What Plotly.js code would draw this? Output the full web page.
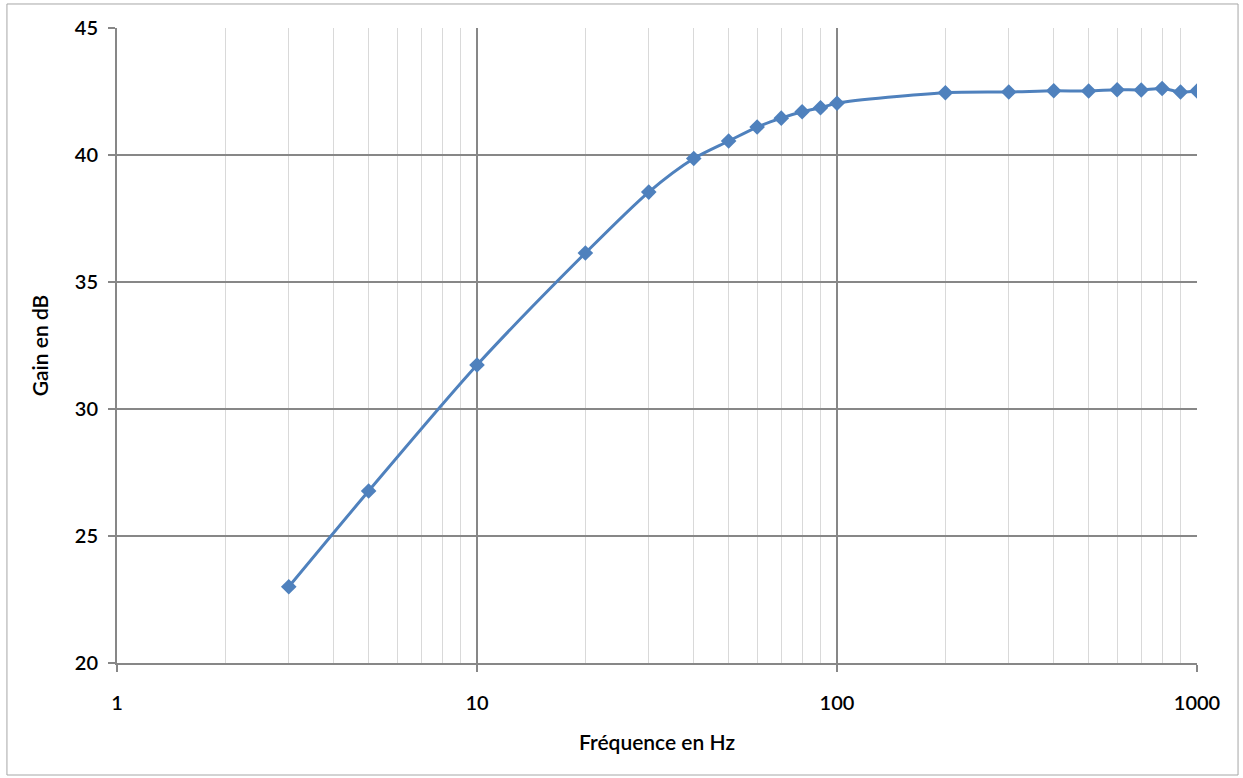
<!DOCTYPE html>
<html>
<head>
<meta charset="utf-8">
<script src="https://cdn.plot.ly/plotly-3.0.1.min.js"></script>
<style>html,body{margin:0;padding:0;background:#fff;}#chart{width:1243px;height:778px;}</style>
</head>
<body>
<div id="chart"></div>
<script>
const frequencies = [3, 5, 10, 20, 30, 40, 50, 60, 70, 80, 90, 100, 200, 300, 400, 500, 600, 700, 800, 900, 1000];
const gainDb = [23.0, 26.77, 31.73, 36.14, 38.54, 39.86, 40.55, 41.10, 41.45, 41.70, 41.86, 42.04, 42.45, 42.48, 42.53, 42.52, 42.57, 42.56, 42.62, 42.48, 42.52];
const xTickVals = [1, 10, 100, 1000];
const xTickText = ['1', '10', '100', '1000'];
const yTickVals = [20, 25, 30, 35, 40, 45];
const xTitle = 'Fréquence en Hz';
const yTitle = 'Gain en dB';

const axisGray = '#878787';
const fontFam = 'Lato, "Open Sans", sans-serif';

const trace = {
  x: frequencies,
  y: gainDb,
  type: 'scatter',
  mode: 'lines+markers',
  line: {color: '#4F81BD', width: 3, shape: 'spline', smoothing: 0.8},
  marker: {symbol: 'diamond', size: 12, color: '#4F81BD'},
  hoverinfo: 'x+y'
};

const layout = {
  width: 1243,
  height: 778,
  margin: {l: 117, r: 46, t: 28, b: 115},
  paper_bgcolor: '#ffffff',
  plot_bgcolor: '#ffffff',
  showlegend: false,
  font: {family: fontFam, color: '#000000', size: 20, weight: 600},
  xaxis: {
    type: 'log',
    range: [0, 3],
    tickvals: xTickVals,
    ticktext: xTickText,
    ticks: 'outside',
    ticklen: 7,
    tickwidth: 2,
    tickcolor: axisGray,
    ticklabelstandoff: 14,
    showline: true,
    linecolor: axisGray,
    linewidth: 2,
    showgrid: true,
    gridcolor: axisGray,
    gridwidth: 1.5,
    zeroline: false,
    minor: {dtick: 'D1', showgrid: true, gridcolor: '#d9d9d9', gridwidth: 1, ticks: ''},
    tickfont: {family: fontFam, size: 20, color: '#000', weight: 600},
    title: {text: xTitle, font: {family: fontFam, size: 21, color: '#000', weight: 600}, standoff: 22}
  },
  yaxis: {
    range: [20, 45],
    tickvals: yTickVals,
    ticks: 'outside',
    ticklen: 7,
    tickwidth: 2,
    tickcolor: axisGray,
    ticklabelstandoff: 6,
    showline: true,
    linecolor: axisGray,
    linewidth: 2,
    showgrid: true,
    gridcolor: axisGray,
    gridwidth: 1.5,
    zeroline: false,
    tickfont: {family: fontFam, size: 20, color: '#000', weight: 600},
    title: {text: yTitle, font: {family: fontFam, size: 21, color: '#000', weight: 600}, standoff: 20}
  },
  shapes: [{
    type: 'rect', xref: 'paper', yref: 'paper',
    x0: -0.1019, x1: 1.038, y0: -0.1764, y1: 1.0378,
    line: {color: '#a6a6a6', width: 1}, layer: 'below'
  }]
};

Plotly.newPlot('chart', [trace], layout, {displayModeBar: false, staticPlot: true});
</script>
</body>
</html>
